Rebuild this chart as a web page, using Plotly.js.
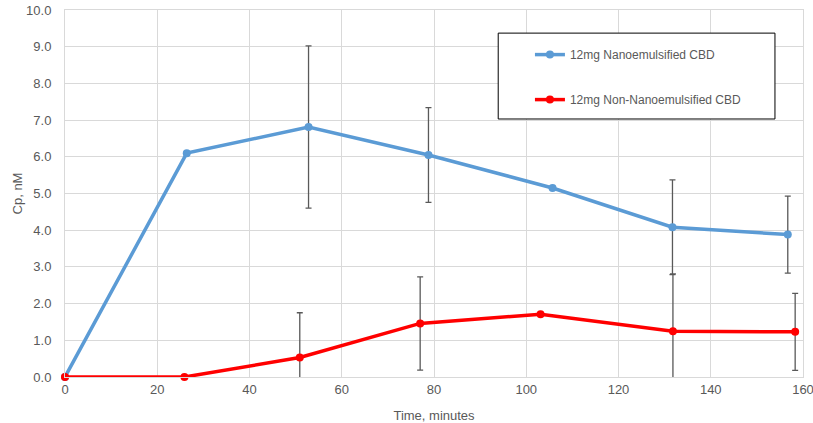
<!DOCTYPE html>
<html>
<head>
<meta charset="utf-8">
<script src="https://cdn.plot.ly/plotly-3.0.1.min.js"></script>
<style>html,body{margin:0;padding:0;background:#fff;}#chart{width:813px;height:423px;}</style>
</head>
<body>
<div id="chart"></div>
<script>
var seriesNames = ["12mg Nanoemulsified CBD", "12mg Non-Nanoemulsified CBD"];
var timeBlue = [0, 26.4, 52.8, 78.8, 105.7, 131.7, 156.7];
var cpBlue   = [0, 6.10, 6.81, 6.05, 5.15, 4.08, 3.88];
var errBlue  = [null, null, 2.21, 1.29, null, 1.29, 1.05];
var timeRed  = [0, 25.9, 50.9, 77.0, 103.1, 131.8, 158.3];
var cpRed    = [0, 0, 0.53, 1.46, 1.71, 1.25, 1.23];
var errRed   = [null, null, 1.22, 1.27, null, 1.56, 1.05];
var xTitle = "Time, minutes";
var yTitle = "Cp, nM";

function toErr(a){ return a.map(function(v){ return v === null ? NaN : v; }); }
var txtColor = "#595959";
var fam = "Liberation Sans, Arial, sans-serif";
var gridC = "#D9D9D9";

function errTrace(x, y, e){
  return {
    x: x, y: y, type: "scatter", mode: "markers",
    marker: {size: 1, color: "rgba(0,0,0,0)"},
    error_y: {type: "data", array: toErr(e), symmetric: true, visible: true,
              color: "#595959", thickness: 1.3, width: 3},
    cliponaxis: true, showlegend: false, hoverinfo: "skip"
  };
}

var data = [
  errTrace(timeBlue, cpBlue, errBlue),
  errTrace(timeRed, cpRed, errRed),
  {
    x: timeBlue, y: cpBlue, type: "scatter", mode: "lines+markers",
    name: seriesNames[0], legendgroup: "a",
    line: {color: "#5B9BD5", width: 3.5},
    marker: {color: "#5B9BD5", size: 8},
    cliponaxis: false
  },
  {
    x: timeRed, y: cpRed, type: "scatter", mode: "lines+markers",
    name: seriesNames[1], legendgroup: "b",
    line: {color: "#FF0000", width: 3.5},
    marker: {color: "#FF0000", size: 8},
    cliponaxis: false
  }
];

var layout = {
  width: 813, height: 423, autosize: false,
  margin: {l: 65, r: 10, t: 10, b: 46},
  paper_bgcolor: "#fff", plot_bgcolor: "#fff",
  font: {family: fam, size: 13, color: txtColor},
  showlegend: true,
  xaxis: {
    range: [0, 160], dtick: 20, tick0: 0,
    showgrid: true, gridcolor: gridC, gridwidth: 1,
    zeroline: false, showline: true, mirror: true, linecolor: gridC, linewidth: 1,
    ticks: "", ticklabeloverflow: "allow",
    tickfont: {family: fam, size: 13, color: txtColor},
    title: {text: xTitle, font: {family: fam, size: 13, color: txtColor}, standoff: 15},
    fixedrange: true
  },
  yaxis: {
    range: [0, 10], dtick: 1, tick0: 0, tickformat: ".1f",
    showgrid: true, gridcolor: gridC, gridwidth: 1,
    zeroline: false, showline: true, mirror: true, linecolor: gridC, linewidth: 1,
    ticks: "", ticklabelstandoff: 10,
    tickfont: {family: fam, size: 13, color: txtColor},
    title: {text: yTitle, font: {family: fam, size: 13, color: txtColor}, standoff: 0},
    fixedrange: true
  },
  legend: {
    x: 0.63, y: 0.918, xanchor: "left", yanchor: "top",
    bgcolor: "rgba(0,0,0,0)", borderwidth: 0,
    font: {family: fam, size: 12, color: txtColor},
    traceorder: "grouped", tracegroupgap: 26
  },
  shapes: [{
    type: "rect", xref: "paper", yref: "paper",
    x0: 0.587, x1: 0.962, y0: 0.703, y1: 0.937,
    line: {color: "#000", width: 1}, fillcolor: "#fff", layer: "above"
  }]
};

Plotly.newPlot("chart", data, layout, {displayModeBar: false, staticPlot: true});
</script>
</body>
</html>
